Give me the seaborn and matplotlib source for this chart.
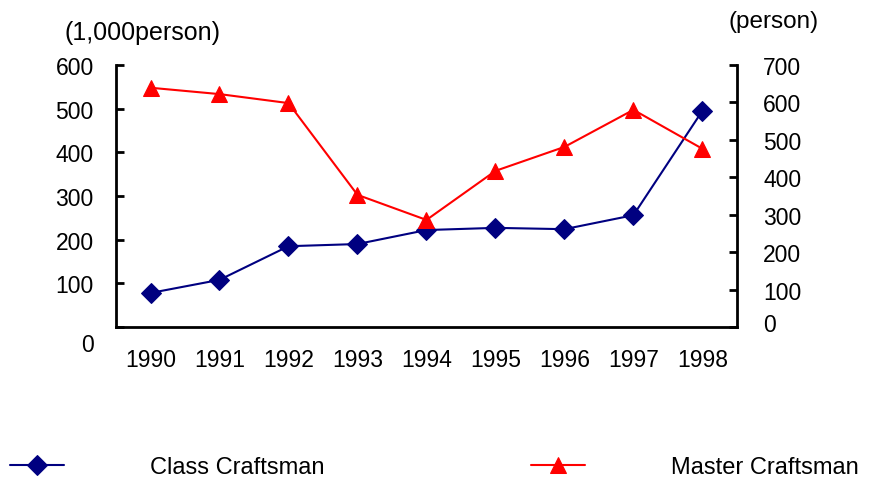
import numpy as np
import pandas as pd
import matplotlib
matplotlib.use("Agg")
import matplotlib.pyplot as plt
import matplotlib.transforms as mtrans
import seaborn as sns

# ----------------------------- DATA -----------------------------
years = ["1990", "1991", "1992", "1993", "1994", "1995", "1996", "1997", "1998"]
class_craftsman = [78, 108, 185, 190, 222, 227, 224, 256, 495]      # 1,000 persons (left axis)
master_craftsman = [639, 622, 598, 353, 286, 417, 481, 580, 476]   # persons (right axis)
left_ticks = [0, 100, 200, 300, 400, 500, 600]
right_ticks = [0, 100, 200, 300, 400, 500, 600, 700]

# ----------------------------- STYLE -----------------------------
sns.set_style("white")
plt.rcParams["font.family"] = ["Liberation Sans", "DejaVu Sans"]
plt.rcParams["text.color"] = "black"
plt.rcParams["xtick.color"] = "black"
plt.rcParams["ytick.color"] = "black"
plt.rcParams["xtick.labelcolor"] = "black"
plt.rcParams["ytick.labelcolor"] = "black"
BLUE = "#000080"
RED = "#ff0000"

df = pd.DataFrame({"pos": np.arange(len(years)),
                   "class": class_craftsman,
                   "master": master_craftsman})

fig = plt.figure(figsize=(8.69, 4.81), dpi=100)
ax = fig.add_axes([0.1335, 0.318, 0.7145, 0.545])
ax2 = ax.twinx()

sns.lineplot(data=df, x="pos", y="class", ax=ax, color=BLUE, marker="D",
             markersize=10, markeredgecolor=BLUE, linewidth=1.5,
             label="Class Craftsman", legend=False)
sns.lineplot(data=df, x="pos", y="master", ax=ax2, color=RED, marker="^",
             markersize=12, markeredgecolor=RED, linewidth=1.5,
             label="Master Craftsman", legend=False)

# ----------------------------- AXES -----------------------------
ax.set_xlim(-0.5, len(years) - 0.5)
ax.set_ylim(0, 600)
ax2.set_ylim(0, 700)

for a in (ax, ax2):
    for s in a.spines.values():
        s.set_visible(False)
    a.set_xlabel("")
    a.set_ylabel("")
ax.spines["left"].set_visible(True)
ax.spines["bottom"].set_visible(True)
ax2.spines["right"].set_visible(True)
for s in (ax.spines["left"], ax.spines["bottom"], ax2.spines["right"]):
    s.set_color("black")
    s.set_linewidth(2)

# category boundaries as inward ticks, labels at centers
ax.set_xticks(np.arange(0.5, len(years) - 1, 1.0))
ax.set_xticklabels([])
ax.set_xticks(np.arange(len(years)), minor=True)
ax.set_xticklabels(years, minor=True)
ax.tick_params(axis="x", which="major", direction="in", length=6, width=2, color="black")
ax.tick_params(axis="x", which="minor", length=0, pad=15, labelsize=16.5, labelcolor="black")

ax.set_yticks(left_ticks)
ax.set_yticklabels([str(v) for v in left_ticks])
ax.tick_params(axis="y", direction="in", length=6, width=2, color="black",
               pad=16, labelsize=16.5, left=True, labelcolor="black")
ax2.set_yticks(right_ticks)
ax2.set_yticklabels([str(v) for v in right_ticks])
ax2.tick_params(axis="y", direction="in", length=6, width=2, color="black",
                pad=19, labelsize=16.5, right=True, labelcolor="black")

# the zero labels sit off their ticks in the original
lbl0 = ax.yaxis.get_major_ticks()[0].label1
lbl0.set_transform(lbl0.get_transform() + mtrans.ScaledTranslation(0, -0.15, fig.dpi_scale_trans))
rlbl0 = ax2.yaxis.get_major_ticks()[0].label2
rlbl0.set_transform(rlbl0.get_transform() + mtrans.ScaledTranslation(0, 0.05, fig.dpi_scale_trans))

fig.text(65 / 869, 1 - 33 / 481, "(1,000person)", fontsize=18, va="center", ha="left")
fig.text(728 / 869, 1 - 22 / 481, "(person)", fontsize=17.5, va="center", ha="left")

# ----------------------------- LEGEND -----------------------------
handles = ax.get_lines() + ax2.get_lines()
fig.legend(handles, [h.get_label() for h in handles], loc="center left",
           bbox_to_anchor=(0.006, 0.027), ncol=2, frameon=False, fontsize=17,
           handlelength=2.29, handletextpad=3.64, columnspacing=8.75,
           borderaxespad=0, borderpad=0.2)

fig.savefig("out.png", dpi=100)
